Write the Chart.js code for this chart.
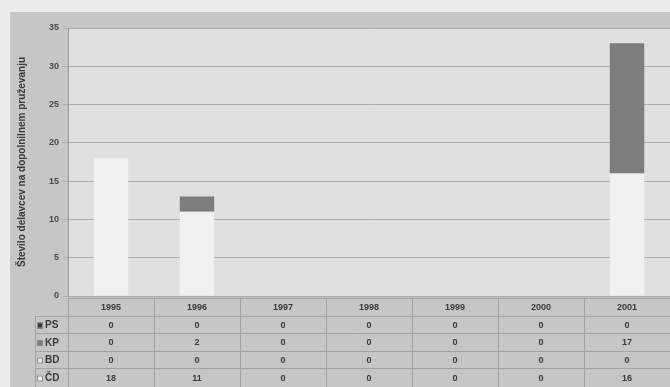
<!DOCTYPE html>
<html>
<head>
<meta charset="utf-8">
<script src="https://cdn.jsdelivr.net/npm/chart.js@4/dist/chart.umd.min.js"></script>
<style>
    html, body { margin: 0; padding: 0; background: #ececec; }
    #wrap { width: 670px; height: 387px; position: relative; }
</style>
</head>
<body>
<div id="wrap"><canvas id="workersChart" width="670" height="387"></canvas></div>
<script>
// Data
const years = ['1995', '1996', '1997', '1998', '1999', '2000', '2001'];
const seriesNames = ['PS', 'KP', 'BD', 'ČD'];
const psValues = [0, 0, 0, 0, 0, 0, 0];
const kpValues = [0, 2, 0, 0, 0, 0, 17];
const bdValues = [0, 0, 0, 0, 0, 0, 0];
const cdValues = [18, 11, 0, 0, 0, 0, 16];
const yTicks = [0, 5, 10, 15, 20, 25, 30, 35];

const seriesColors = {
    'PS': '#3c3c3c',
    'KP': '#7d7d7d',
    'BD': '#e6e6e6',
    'ČD': '#f1f1f1'
};

// Backgrounds of the chart area and plot area
const backgroundPlugin = {
    id: 'backgrounds',
    beforeDraw(chart) {
        const c = chart.ctx;
        const a = chart.chartArea;
        c.save();
        c.fillStyle = '#c6c6c6';
        c.fillRect(10, 12, chart.width - 10, chart.height - 12);
        c.fillStyle = '#e0e0e0';
        c.fillRect(a.left, a.top, a.right - a.left, a.bottom - a.top);
        c.restore();
    }
};

// Excel-style data table under the plot
const dataTablePlugin = {
    id: 'dataTable',
    afterDraw(chart) {
        const c = chart.ctx;
        const x = chart.scales.x;
        const a = chart.chartArea;
        const step = x.getPixelForValue(1) - x.getPixelForValue(0);
        const rowTops = [298, 316, 333, 351, 368, 387];
        const tableLeft = 35;
        const rows = [
            { name: 'PS', values: psValues },
            { name: 'KP', values: kpValues },
            { name: 'BD', values: bdValues },
            { name: 'ČD', values: cdValues }
        ];

        c.save();
        c.strokeStyle = '#a2a2a2';
        c.lineWidth = 1;

        // horizontal lines
        c.beginPath();
        c.moveTo(a.left, rowTops[0] + 0.5);
        c.lineTo(chart.width, rowTops[0] + 0.5);
        for (let r = 1; r < rowTops.length - 1; r++) {
            c.moveTo(tableLeft, rowTops[r] + 0.5);
            c.lineTo(chart.width, rowTops[r] + 0.5);
        }
        // vertical lines
        for (let i = 0; i <= years.length; i++) {
            const px = Math.round(x.getPixelForValue(i) - step / 2) + 0.5;
            c.moveTo(px, i === 0 ? rowTops[0] : rowTops[1]);
            c.lineTo(px, chart.height);
            if (i > 0) {
                c.moveTo(px, rowTops[0]);
                c.lineTo(px, rowTops[1]);
            }
        }
        c.moveTo(tableLeft + 0.5, rowTops[1]);
        c.lineTo(tableLeft + 0.5, chart.height);
        c.stroke();

        c.font = 'bold 9px "Liberation Sans", Arial, sans-serif';
        c.fillStyle = '#3a3a3a';
        c.textAlign = 'center';
        c.textBaseline = 'middle';

        // year header
        years.forEach((y, i) => {
            c.fillText(y, x.getPixelForValue(i), (rowTops[0] + rowTops[1]) / 2 + 1);
        });

        // series rows
        rows.forEach((row, r) => {
            const cy = (rowTops[r + 1] + rowTops[r + 2]) / 2 + 1;
            c.fillStyle = seriesColors[row.name];
            c.fillRect(37, cy - 3, 6, 6);
            c.strokeStyle = '#8a8a8a';
            c.strokeRect(37.5, cy - 2.5, 5, 5);
            c.fillStyle = '#3a3a3a';
            c.textAlign = 'left';
            c.font = 'bold 10px "Liberation Sans", Arial, sans-serif';
            c.fillText(row.name, 45, cy);
            c.textAlign = 'center';
            c.font = 'bold 9px "Liberation Sans", Arial, sans-serif';
            row.values.forEach((v, i) => {
                c.fillText(String(v), x.getPixelForValue(i), cy);
            });
        });
        c.restore();
    }
};

function makeDataset(name, values) {
    return {
        label: name,
        data: values,
        backgroundColor: seriesColors[name],
        borderWidth: 0,
        barPercentage: 0.4,
        categoryPercentage: 1.0
    };
}

new Chart(document.getElementById('workersChart'), {
    type: 'bar',
    data: {
        labels: years,
        datasets: [
            makeDataset('ČD', cdValues),
            makeDataset('BD', bdValues),
            makeDataset('KP', kpValues),
            makeDataset('PS', psValues)
        ]
    },
    options: {
        responsive: false,
        animation: false,
        layout: {
            padding: { left: 16, top: 28, right: 0, bottom: 91 }
        },
        plugins: {
            legend: { display: false },
            tooltip: { enabled: false }
        },
        scales: {
            x: {
                display: false,
                stacked: true
            },
            y: {
                stacked: true,
                min: 0,
                max: 35,
                afterBuildTicks(scale) {
                    scale.ticks = yTicks.map(v => ({ value: v }));
                },
                afterFit(scale) {
                    scale.width = 52;
                },
                border: { display: true, color: '#9a9a9a' },
                grid: {
                    color: '#aeaeae',
                    drawTicks: true,
                    tickLength: 5
                },
                ticks: {
                    color: '#4a4a4a',
                    padding: 4,
                    font: { family: '"Liberation Sans", Arial, sans-serif', size: 9, weight: 'bold' }
                },
                title: {
                    display: true,
                    text: 'Število delavcev na dopolnilnem pruževanju',
                    color: '#3a3a3a',
                    padding: { top: 0, bottom: 2 },
                    font: { family: '"Liberation Sans", Arial, sans-serif', size: 10, weight: 'bold' }
                }
            }
        }
    },
    plugins: [backgroundPlugin, dataTablePlugin]
});
</script>
</body>
</html>
